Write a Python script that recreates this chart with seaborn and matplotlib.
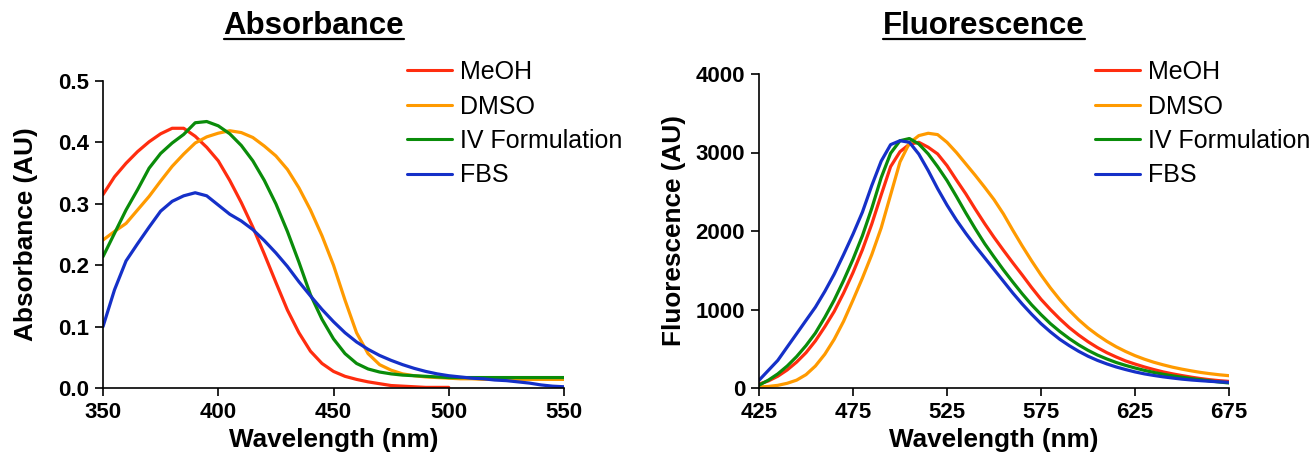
import numpy as np
import pandas as pd
import matplotlib
matplotlib.use("Agg")
import matplotlib.pyplot as plt
from matplotlib.lines import Line2D
import seaborn as sns

# Absorbance spectra (5 nm steps)
abs_wl = list(range(350, 551, 5))
abs_meoh_wl = list(range(350, 501, 5))
abs_meoh = [0.315, 0.344, 0.366, 0.385, 0.401, 0.414, 0.423, 0.423, 0.410, 0.392,
            0.370, 0.338, 0.302, 0.262, 0.218, 0.172, 0.127, 0.090, 0.060, 0.040,
            0.027, 0.019, 0.014, 0.010, 0.007, 0.004, 0.003, 0.002, 0.001, 0.001, 0.001]
abs_dmso = [0.241, 0.255, 0.268, 0.290, 0.312, 0.337, 0.361, 0.381, 0.399, 0.409,
            0.415, 0.419, 0.416, 0.408, 0.394, 0.378, 0.356, 0.326, 0.290, 0.248,
            0.200, 0.143, 0.090, 0.056, 0.038, 0.029, 0.023, 0.020, 0.018, 0.017,
            0.016, 0.015, 0.015, 0.014, 0.014, 0.014, 0.014, 0.014, 0.014, 0.014, 0.014]
abs_iv = [0.214, 0.252, 0.290, 0.323, 0.358, 0.382, 0.399, 0.413, 0.432, 0.434,
          0.427, 0.414, 0.395, 0.370, 0.338, 0.300, 0.255, 0.205, 0.152, 0.112,
          0.080, 0.056, 0.040, 0.031, 0.026, 0.023, 0.021, 0.020, 0.019, 0.018,
          0.017, 0.017, 0.017, 0.017, 0.017, 0.017, 0.017, 0.017, 0.017, 0.017, 0.017]
abs_fbs = [0.100, 0.160, 0.207, 0.235, 0.262, 0.288, 0.304, 0.313, 0.318, 0.313,
           0.298, 0.283, 0.272, 0.258, 0.240, 0.220, 0.198, 0.173, 0.150, 0.128,
           0.108, 0.090, 0.075, 0.063, 0.053, 0.045, 0.038, 0.032, 0.027, 0.023,
           0.020, 0.018, 0.016, 0.015, 0.013, 0.012, 0.010, 0.008, 0.005, 0.003, 0.002]

# Fluorescence spectra
fl_wl = list(range(425, 676, 5))
fl_meoh = [50, 90, 150, 230, 330, 450, 600, 780, 975, 1210, 1470, 1760, 2090, 2460,
           2820, 3010, 3105, 3130, 3067, 2982, 2833, 2650, 2473, 2280, 2095, 1920, 1755,
           1595, 1440, 1280, 1130, 1000, 880, 770, 675, 590, 515, 450, 395, 345, 305,
           268, 235, 205, 180, 158, 138, 120, 105, 93, 84]
fl_dmso = [13, 20, 34, 60, 100, 170, 280, 430, 620, 850, 1120, 1400, 1700, 2040, 2460,
           2880, 3120, 3215, 3245, 3228, 3130, 3000, 2855, 2710, 2558, 2400, 2218, 2010,
           1810, 1620, 1440, 1275, 1125, 990, 870, 765, 675, 595, 525, 465, 412, 367,
           328, 295, 265, 240, 218, 198, 182, 168, 157]
fl_iv = [35, 100, 180, 280, 400, 540, 700, 900, 1120, 1370, 1640, 1940, 2290, 2680,
         2990, 3150, 3178, 3109, 2982, 2820, 2643, 2440, 2230, 2030, 1840, 1670, 1505,
         1350, 1200, 1060, 935, 820, 720, 630, 550, 480, 420, 370, 325, 288, 255, 225,
         198, 175, 155, 137, 120, 105, 90, 76, 64]
fl_fbs = [98, 225, 352, 522, 691, 861, 1030, 1230, 1450, 1700, 1960, 2240, 2580, 2890,
          3100, 3150, 3130, 2980, 2770, 2540, 2330, 2140, 1970, 1810, 1660, 1510, 1360,
          1210, 1070, 940, 820, 715, 620, 540, 468, 405, 352, 307, 268, 235, 205, 180,
          160, 142, 127, 113, 102, 93, 85, 78, 72]

solvents = ["MeOH", "DMSO", "IV Formulation", "FBS"]
colors = {"MeOH": "#FF2D0F", "DMSO": "#FF9A00", "IV Formulation": "#0A8C0A", "FBS": "#1530C8"}


def long_df(pairs, col):
    frames = []
    for name, (wl, vals) in zip(solvents, pairs):
        frames.append(pd.DataFrame({"wl": wl, col: vals, "Solvent": name}))
    return pd.concat(frames, ignore_index=True)


df_abs = long_df([(abs_meoh_wl, abs_meoh), (abs_wl, abs_dmso), (abs_wl, abs_iv), (abs_wl, abs_fbs)], "val")
df_fl = long_df([(fl_wl, fl_meoh), (fl_wl, fl_dmso), (fl_wl, fl_iv), (fl_wl, fl_fbs)], "val")

sns.set_style("ticks")
plt.rcParams["font.family"] = ["Liberation Sans", "DejaVu Sans"]
plt.rcParams.update({"text.color": "black", "axes.labelcolor": "black",
                     "xtick.color": "black", "ytick.color": "black"})

W, H = 1314, 462
fig = plt.figure(figsize=(W / 100, H / 100), dpi=100)
ax1 = fig.add_axes([103 / W, 1 - 388 / H, (564 - 103) / W, (388 - 81) / H])
ax2 = fig.add_axes([759 / W, 1 - 388 / H, (1229 - 759) / W, (388 - 74) / H])

panels = [
    (ax1, df_abs, (350, 550), np.arange(350, 551, 50), (0, 0.5), np.arange(0, 0.51, 0.1),
     "Absorbance (AU)", "{:.1f}", "Absorbance", 314 / W, 407 / W, -0.141),
    (ax2, df_fl, (425, 675), np.arange(425, 676, 50), (0, 4000), np.arange(0, 4001, 1000),
     "Fluorescence (AU)", "{:.0f}", "Fluorescence", 984 / W, 1095 / W, -0.155),
]

for ax, df, xlim, xt, ylim, yt, ylab, fmt, title, tx, lx, ylx in panels:
    sns.lineplot(data=df, x="wl", y="val", hue="Solvent", hue_order=solvents,
                 palette=colors, linewidth=2.3, ax=ax, legend=False, sort=False)
    ax.set_xlim(*xlim)
    ax.set_ylim(*ylim)
    ax.set_xticks(xt)
    ax.set_yticks(yt)
    ax.set_yticklabels([fmt.format(v) for v in yt])
    for lab in ax.get_xticklabels() + ax.get_yticklabels():
        lab.set_fontweight("bold")
    ax.tick_params(labelsize=16, length=6, width=1.2, pad=4, color="black")
    for s in ["left", "bottom"]:
        ax.spines[s].set_linewidth(1.2)
        ax.spines[s].set_color("black")
    sns.despine(ax=ax)
    ax.set_xlabel("Wavelength (nm)", fontsize=18.8, fontweight="bold", labelpad=4)
    ax.set_ylabel(ylab, fontsize=18.8, fontweight="bold")
    ax.yaxis.set_label_coords(ylx, 0.5)

    handles = [Line2D([], [], color=colors[s], linewidth=2.2) for s in solvents]
    fig.legend(handles, solvents, loc="upper left", bbox_to_anchor=(lx, 1 - 60 / H),
               frameon=False, fontsize=18, handlelength=1.8, handletextpad=0.32,
               labelspacing=0.42, borderpad=0, borderaxespad=0)

    fig.text(tx, 1 - 34 / H, title, ha="center", va="baseline",
             fontsize=22.5, fontweight="bold")

fig.canvas.draw()
renderer = fig.canvas.get_renderer()
for t in fig.texts:
    bb = t.get_window_extent(renderer)
    x0, x1 = bb.x0 / W, bb.x1 / W
    fig.add_artist(Line2D([x0, x1], [1 - 39 / H, 1 - 39 / H], color="black",
                          linewidth=1.6, transform=fig.transFigure))

fig.savefig("out.png", dpi=100)
